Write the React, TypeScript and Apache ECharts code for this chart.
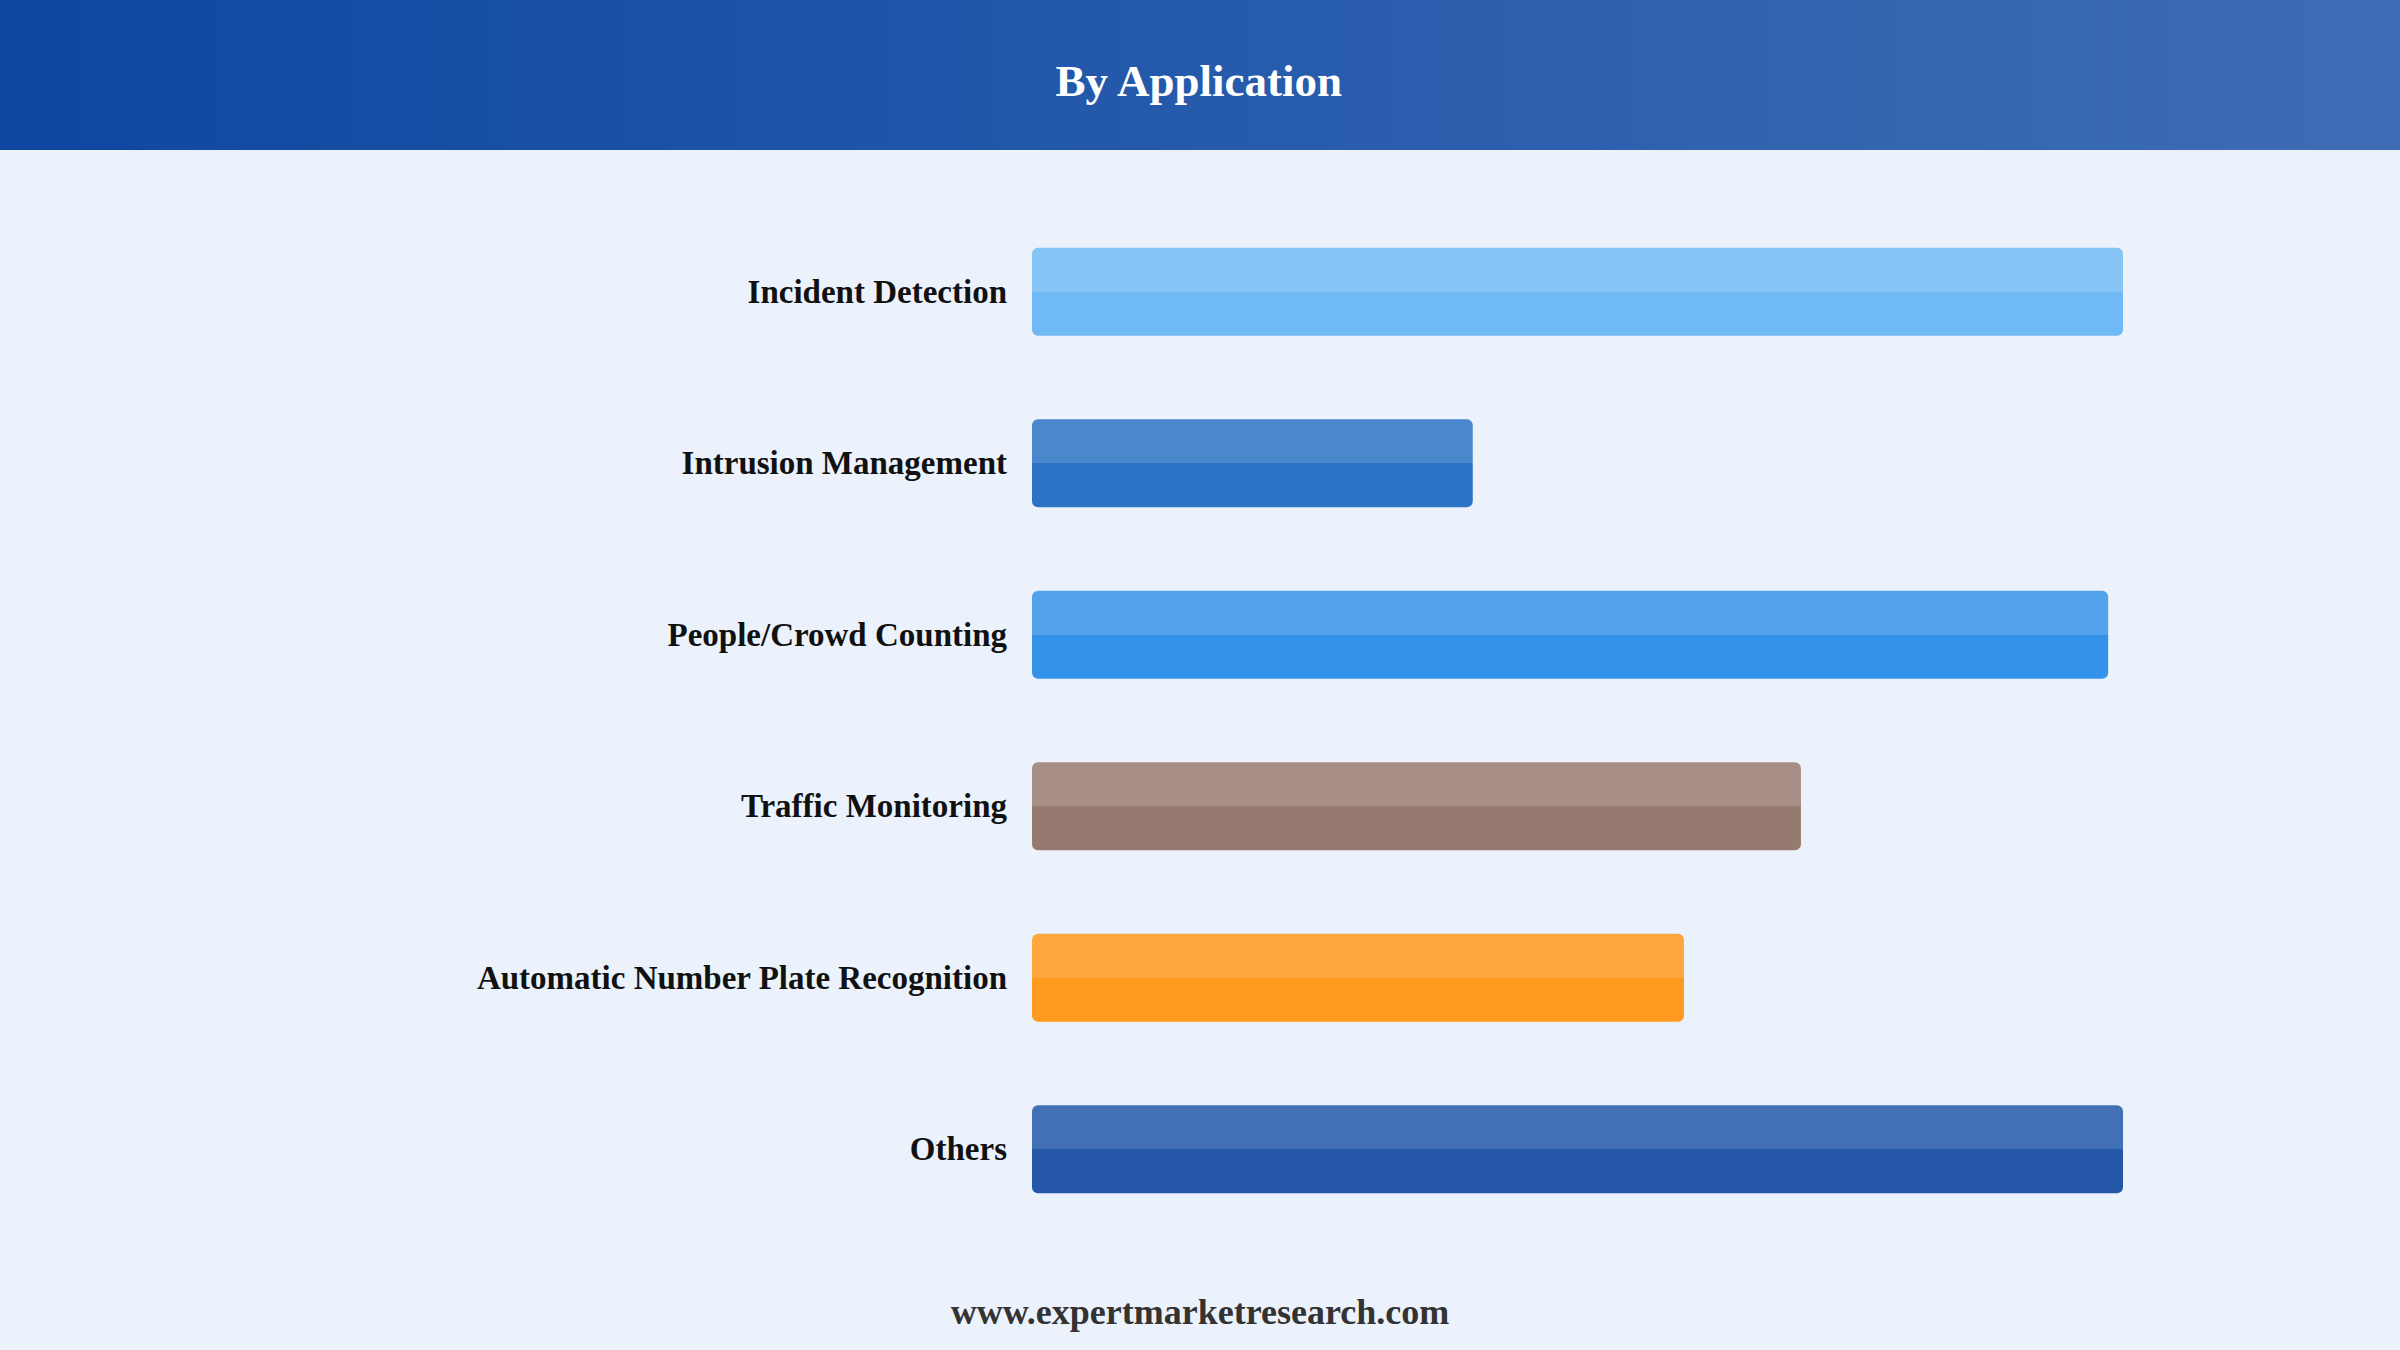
import React, { useEffect, useRef } from "react";
import * as echarts from "echarts";

const categories = [
  "Incident Detection",
  "Intrusion Management",
  "People/Crowd Counting",
  "Traffic Monitoring",
  "Automatic Number Plate Recognition",
  "Others",
];
const values = [25, 10.1, 24.66, 17.62, 14.94, 25];
const topColors = ["#86C4F6", "#4A88CE", "#52A3EC", "#A78E86", "#FFA73F", "#4270B5"];
const bottomColors = ["#6FB9F4", "#2A73C5", "#3393E8", "#967A70", "#FF9A1E", "#2457A8"];
const titleText = "By Application";
const footerText = "www.expertmarketresearch.com";

export default function App() {
  const ref = useRef<HTMLDivElement>(null);
  useEffect(() => {
    if (!ref.current) return;
    const chart = echarts.init(ref.current, undefined, { renderer: "svg" });
    const data = values.map((v, i) => ({
      value: v,
      itemStyle: {
        color: new echarts.graphic.LinearGradient(0, 0, 0, 1, [
          { offset: 0, color: topColors[i] },
          { offset: 0.5, color: topColors[i] },
          { offset: 0.5, color: bottomColors[i] },
          { offset: 1, color: bottomColors[i] },
        ]),
        borderRadius: 6,
      },
    }));
    chart.setOption({
      animation: false,
      backgroundColor: "#EBF2FC",
      grid: { left: 1032, right: 2400 - 2123, top: 206, height: 1029, containLabel: false },
      xAxis: {
        type: "value",
        min: 0,
        max: 25,
        show: false,
      },
      yAxis: {
        type: "category",
        data: categories,
        inverse: true,
        axisLine: { show: false },
        axisTick: { show: false },
        splitLine: { show: false },
        axisLabel: {
          margin: 25,
          fontFamily: "Liberation Serif, Times New Roman, serif",
          fontWeight: "bold",
          fontSize: 33,
          color: "#111111",
          padding: [3, 0, 0, 0],
        },
      },
      series: [
        {
          type: "bar",
          data,
          barWidth: 88,
        },
      ],
      graphic: [
        {
          type: "rect",
          left: 0,
          top: 0,
          shape: { width: 2400, height: 150 },
          style: {
            fill: new echarts.graphic.LinearGradient(0, 0, 1, 0, [
              { offset: 0, color: "#0D47A1" },
              { offset: 1, color: "#3E6DB5" },
            ]),
          },
          z: 0,
        },
        {
          type: "text",
          left: "center",
          top: 58,
          style: {
            text: titleText,
            fill: "#FFFFFF",
            font: "bold 45px 'Liberation Serif', 'Times New Roman', serif",
          },
          z: 1,
        },
        {
          type: "text",
          left: "center",
          top: 1294,
          style: {
            text: footerText,
            fill: "#333333",
            font: "bold 36px 'Liberation Serif', 'Times New Roman', serif",
          },
          z: 1,
        },
      ],
    });
    return () => chart.dispose();
  }, []);
  return (
    <div
      ref={ref}
      style={{ position: "fixed", left: 0, top: 0, width: 2400, height: 1350 }}
    />
  );
}
